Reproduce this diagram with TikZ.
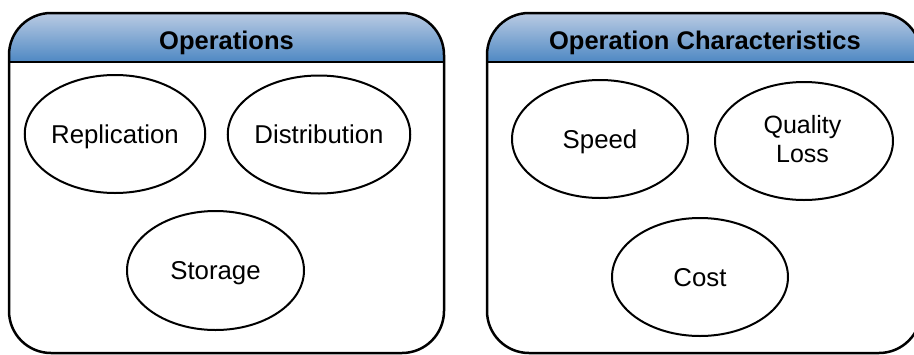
\documentclass[tikz,border=0pt]{standalone}
\usepackage{fontspec}
\setmainfont{Liberation Sans}
\usetikzlibrary{shapes.geometric}

\definecolor{hdrtop}{RGB}{186,203,227}
\definecolor{hdrbot}{RGB}{78,136,195}

\tikzset{
  panel/.style={draw=black, line width=2.5pt, rounded corners=42pt},
  headline/.style={draw=black, line width=2.5pt},
  title/.style={font={\bfseries\fontsize{25.5}{30}\selectfont}, inner sep=0pt,
                text height=18.4pt, text depth=0pt},
  oval/.style={ellipse, draw=black, line width=2pt, inner sep=0pt,
               minimum width=176pt, minimum height=118pt,
               font={\fontsize{25.8}{30}\selectfont},
               text height=18.6pt, text depth=0pt},
  twoline/.style={font={\fontsize{25}{28.3}\selectfont}, align=center, inner sep=0pt}
}

\begin{document}
\begin{tikzpicture}[x=1pt, y=-1pt]
  \useasboundingbox (0,0) rectangle (914,354);

  % left panel: header band with gradient
  \begin{scope}
    \clip[rounded corners=42pt] (9,13) rectangle (444,353);
    \shade[top color=hdrtop, bottom color=hdrbot] (9,13) rectangle (444,62);
  \end{scope}
  \coordinate (lhl) at (9,62);
  \coordinate (lhr) at (444,62);
  \draw[headline] (lhl) -- (lhr);
  \draw[panel] (9,13) rectangle (444,353);
  \node[title] (opstitle) at (226.5,40.5) {Operations};

  % right panel: header band with gradient
  \begin{scope}
    \clip[rounded corners=42pt] (487,13) rectangle (921,353);
    \shade[top color=hdrtop, bottom color=hdrbot] (487,13) rectangle (921,62);
  \end{scope}
  \coordinate (rhl) at (487,62);
  \coordinate (rhr) at (921,62);
  \draw[headline] (rhl) -- (rhr);
  \draw[panel] (487,13) rectangle (921,353);
  \node[title] (chartitle) at (705,40.5) {Operation Characteristics};

  % operations
  \node[oval] (replication) at (115,134) {Replication};
  \node[oval] (distribution) at (319,134.5) {Distribution};
  \node[oval, minimum width=177pt, minimum height=119pt] (storage) at (215.5,270.5) {Storage};

  % characteristics
  \node[oval] (speed) at (600,139) {Speed};
  \node[oval, minimum width=178pt] (qloss) at (804,141) {};
  \node[twoline] (qlosstext) at (802.5,139) {Quality\\Loss};
  \node[oval] (cost) at (700,277) {Cost};
\end{tikzpicture}
\end{document}
